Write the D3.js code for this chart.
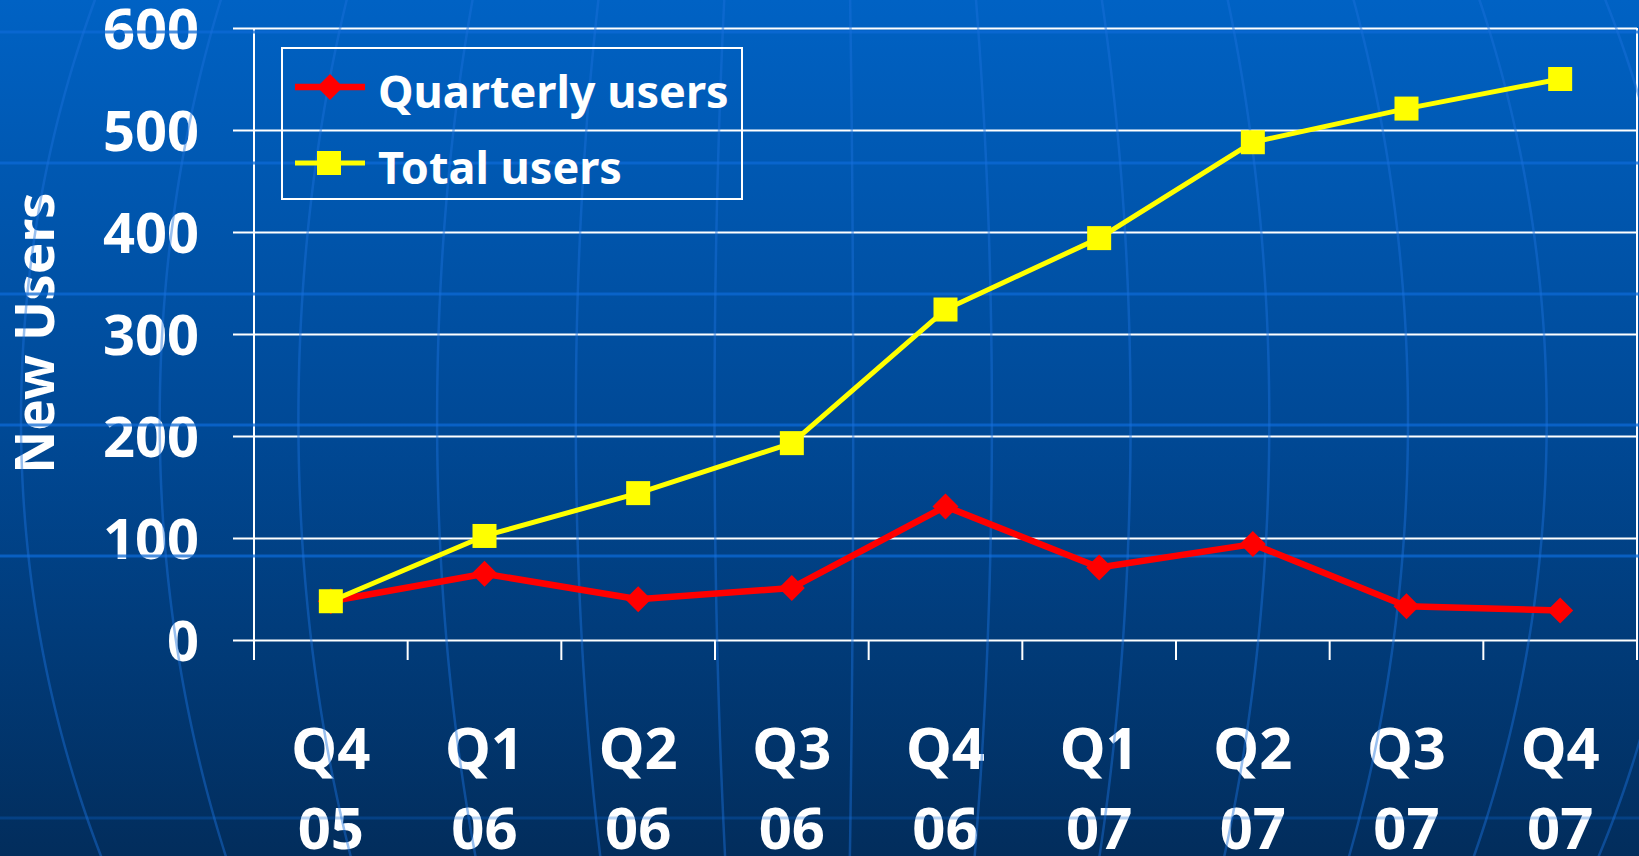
<!DOCTYPE html>
<html>
<head>
<meta charset="utf-8">
<script src="https://cdn.jsdelivr.net/npm/d3@7"></script>
<style>
  html, body { margin: 0; padding: 0; background: #003060; }
  svg { display: block; }
  text { font-family: "Noto Sans", "Open Sans", sans-serif; font-weight: 700; fill: #ffffff; }
</style>
</head>
<body>
<svg id="chart" width="1639" height="856"></svg>
<script>
const categories = ["Q4 05", "Q1 06", "Q2 06", "Q3 06", "Q4 06", "Q1 07", "Q2 07", "Q3 07", "Q4 07"];
const quarterly_users = [38, 65, 40, 51, 131, 71, 94, 33, 29];
const total_users = [38, 102, 144, 193, 324, 394, 488, 521, 550];
const y_ticks = [0, 100, 200, 300, 400, 500, 600];
const series_names = ["Quarterly users", "Total users"];
const y_title = "New Users";

var svg = d3.select("svg#chart");
const W = 1639, H = 856;
const margin = { "top": 28, "left": 254, "right": 2, "bottom": 216 };

var x = d3.scaleBand()
    .domain(categories)
    .range([margin.left, W - margin.right])
    .padding(0);
var y = d3.scaleLinear()
    .domain([0, 600])
    .range([H - margin.bottom, margin.top]);

// background gradient
var defs = svg.append("defs");
var bg = defs.append("linearGradient")
    .attr("id", "bg")
    .attr("x1", "0%").attr("y1", "0%")
    .attr("x2", "0%").attr("y2", "100%");
bg.append("stop").attr("offset", 0).attr("stop-color", "#0062c4");
bg.append("stop").attr("offset", 0.5).attr("stop-color", "#004996");
bg.append("stop").attr("offset", 1).attr("stop-color", "#022d5c");

svg.append("rect")
    .attr("width", W).attr("height", H)
    .style("fill", "url(#bg)");

// gridlines + y labels
var yAxis = svg.append("g")
    .attr("transform", "translate(" + margin.left + ",0)")
    .call(d3.axisLeft(y)
        .tickValues(y_ticks)
        .tickSizeInner(-(W - margin.right - margin.left))
        .tickSizeOuter(0)
        .tickPadding(55));
yAxis.select(".domain").remove();
yAxis.selectAll(".tick line")
    .attr("x1", -21)
    .attr("stroke", "#ffffff")
    .attr("stroke-width", 2);
yAxis.selectAll(".tick text")
    .attr("font-size", 56)
    .attr("dy", "0.36em")
    .style("font-family", "'Noto Sans', sans-serif")
    .style("font-weight", 700)
    .attr("fill", "#ffffff");

// axis lines
var y0 = y(0);
svg.append("line")
    .attr("x1", margin.left).attr("x2", margin.left)
    .attr("y1", y(600)).attr("y2", y0 + 20)
    .attr("stroke", "#ffffff").attr("stroke-width", 2);
svg.append("line")
    .attr("x1", W - margin.right).attr("x2", W - margin.right)
    .attr("y1", y(600)).attr("y2", y0 + 20)
    .attr("stroke", "#ffffff").attr("stroke-width", 2);

// x ticks at category boundaries
var boundaries = categories.map(c => x(c)).concat([x(categories[categories.length - 1]) + x.bandwidth()]);
svg.append("g").selectAll("line")
    .data(boundaries)
    .join("line")
    .attr("x1", d => d).attr("x2", d => d)
    .attr("y1", y0).attr("y2", y0 + 20)
    .attr("stroke", "#ffffff").attr("stroke-width", 2);

// x labels, two lines each
var xl = svg.append("g").selectAll("text")
    .data(categories)
    .join("text")
    .attr("text-anchor", "middle")
    .attr("font-size", 58);
xl.append("tspan")
    .attr("x", d => x(d) + x.bandwidth() / 2)
    .attr("y", 769)
    .text(d => d.split(" ")[0]);
xl.append("tspan")
    .attr("x", d => x(d) + x.bandwidth() / 2)
    .attr("y", 849)
    .text(d => d.split(" ")[1]);

// y title
svg.append("text")
    .attr("transform", "translate(54,333) rotate(-90)")
    .attr("text-anchor", "middle")
    .attr("font-size", 53)
    .text(y_title);

// globe decoration: parallels and meridians
var deco = svg.append("g").attr("fill", "none");
[0, 1, 2, 3, 4, 6].forEach(function(k) {
    var py = 32 + 131 * k;
    deco.append("line")
        .attr("x1", 0).attr("x2", W)
        .attr("y1", py).attr("y2", py)
        .attr("stroke", "#0c6ad6")
        .attr("stroke-opacity", k == 6 ? 0.3 : 0.75)
        .attr("stroke-width", 3);
});
const cx = 820, cy = 420, b = 1000;
d3.range(-6, 7).forEach(function(k) {
    var x0 = 21 + 138.7 * (k + 6);
    var pts = d3.range(-10, H + 11, 8).map(function(py) {
        var f = Math.sqrt(Math.max(0, 1 - Math.pow((py - cy) / b, 2)));
        return [cx + (x0 - cx) * f, py];
    });
    deco.append("path")
        .attr("d", d3.line().curve(d3.curveBasis)(pts))
        .attr("stroke", "#1a72dc")
        .attr("stroke-opacity", 0.45)
        .attr("stroke-width", 2.5);
});

// series
var line = d3.line()
    .x((d, i) => x(categories[i]) + x.bandwidth() / 2)
    .y(d => y(d));

svg.append("path")
    .attr("d", line(quarterly_users))
    .attr("fill", "none")
    .attr("stroke", "#ff0000")
    .attr("stroke-width", 6.5)
    .attr("stroke-linejoin", "round");
svg.append("g").selectAll("path")
    .data(quarterly_users)
    .join("path")
    .attr("transform", (d, i) => "translate(" + (x(categories[i]) + x.bandwidth() / 2) + "," + y(d) + ")")
    .attr("d", "M0,-13L13,0L0,13L-13,0Z")
    .attr("fill", "#ff0000");

svg.append("path")
    .attr("d", line(total_users))
    .attr("fill", "none")
    .attr("stroke", "#ffff00")
    .attr("stroke-width", 5)
    .attr("stroke-linejoin", "round");
svg.append("g").selectAll("rect")
    .data(total_users)
    .join("rect")
    .attr("x", (d, i) => x(categories[i]) + x.bandwidth() / 2 - 12)
    .attr("y", d => y(d) - 12)
    .attr("width", 24).attr("height", 24)
    .attr("fill", "#ffff00");

// legend
var legend = svg.append("g");
legend.append("rect")
    .attr("x", 282).attr("y", 48)
    .attr("width", 460).attr("height", 151)
    .attr("fill", "none")
    .attr("stroke", "#ffffff")
    .attr("stroke-width", 2);

const LEG_COLORS = ["#ff0000", "#ffff00"];
series_names.forEach(function(name, i) {
    var ly = i == 0 ? 87 : 163;
    var g = legend.append("g");
    g.append("line")
        .attr("x1", 295).attr("x2", 365)
        .attr("y1", ly).attr("y2", ly)
        .attr("stroke", LEG_COLORS[i])
        .attr("stroke-width", i == 0 ? 6.5 : 5);
    if (i == 0) {
        g.append("path")
            .attr("transform", "translate(330," + ly + ")")
            .attr("d", "M0,-13L13,0L0,13L-13,0Z")
            .attr("fill", LEG_COLORS[i]);
    } else {
        g.append("rect")
            .attr("x", 317).attr("y", ly - 12)
            .attr("width", 24).attr("height", 24)
            .attr("fill", LEG_COLORS[i]);
    }
    g.append("text")
        .attr("x", 378)
        .attr("y", ly + 21)
        .attr("font-size", 45)
        .text(name);
});
</script>
</body>
</html>
